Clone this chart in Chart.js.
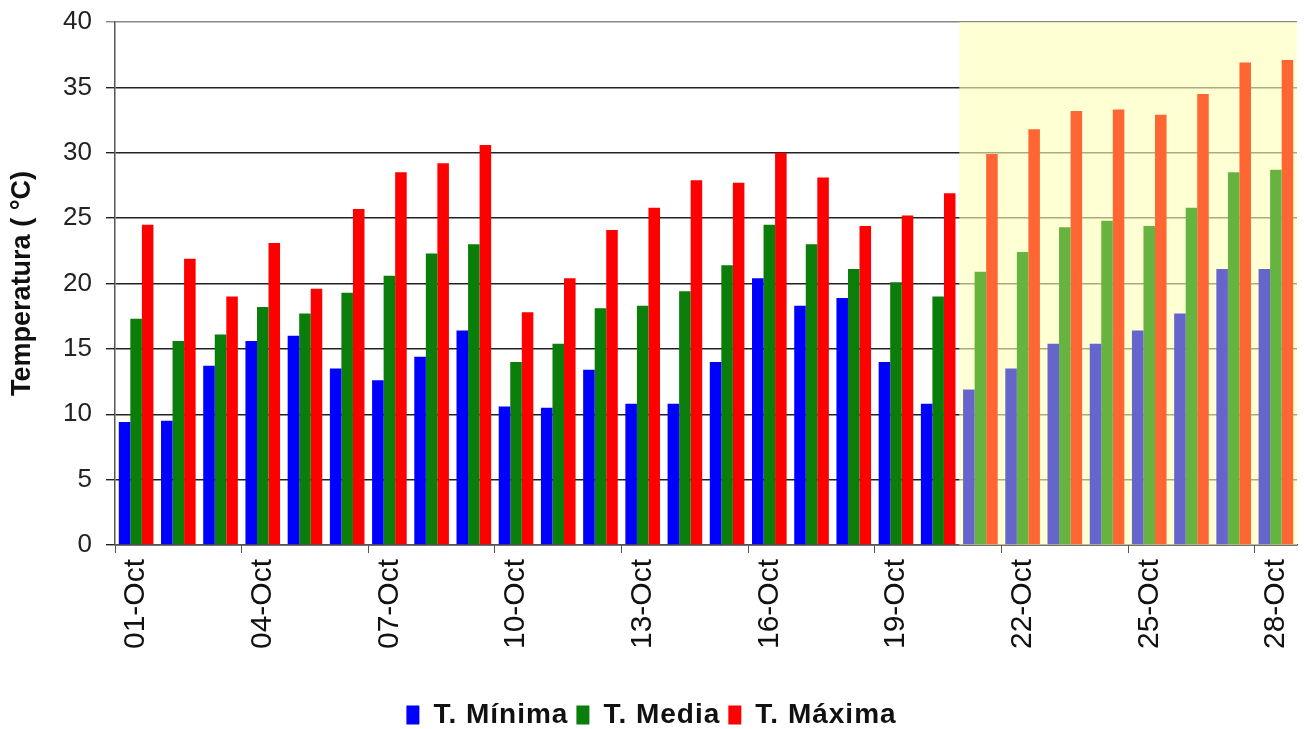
<!DOCTYPE html>
<html>
<head>
<meta charset="utf-8">
<script src="https://cdn.jsdelivr.net/npm/chart.js@4/dist/chart.umd.min.js"></script>
<style>
  html, body { margin: 0; padding: 0; background: #ffffff; }
  canvas { display: block; }
</style>
</head>
<body>
<canvas id="c" width="1304" height="729"></canvas>
<script>
const days = ['01-Oct','02-Oct','03-Oct','04-Oct','05-Oct','06-Oct','07-Oct','08-Oct','09-Oct','10-Oct',
              '11-Oct','12-Oct','13-Oct','14-Oct','15-Oct','16-Oct','17-Oct','18-Oct','19-Oct','20-Oct',
              '21-Oct','22-Oct','23-Oct','24-Oct','25-Oct','26-Oct','27-Oct','28-Oct'];
const tMinima = [9.4, 9.5, 13.7, 15.6, 16.0, 13.5, 12.6, 14.4, 16.4, 10.6, 10.5, 13.4, 10.8, 10.8, 14.0, 20.4, 18.3, 18.9, 14.0, 10.8, 11.9, 13.5, 15.4, 15.4, 16.4, 17.7, 21.1, 21.1];
const tMedia  = [17.3, 15.6, 16.1, 18.2, 17.7, 19.3, 20.6, 22.3, 23.0, 14.0, 15.4, 18.1, 18.3, 19.4, 21.4, 24.5, 23.0, 21.1, 20.1, 19.0, 20.9, 22.4, 24.3, 24.8, 24.4, 25.8, 28.5, 28.7];
const tMaxima = [24.5, 21.9, 19.0, 23.1, 19.6, 25.7, 28.5, 29.2, 30.6, 17.8, 20.4, 24.1, 25.8, 27.9, 27.7, 30.0, 28.1, 24.4, 25.2, 26.9, 29.9, 31.8, 33.2, 33.3, 32.9, 34.5, 36.9, 37.1];
const seriesNames = ['T. Mínima', 'T. Media', 'T. Máxima'];
const forecastStart = 20; // index of first forecast day (21-Oct)

const obsColors = ['#0000ff', '#0a7d0a', '#ff0000'];
const fcColors  = ['#6565cc', '#66b33f', '#ff6633'];

const forecastBand = {
  id: 'forecastBand',
  beforeDatasetsDraw(chart) {
    const x = chart.scales.x, a = chart.chartArea, ctx = chart.ctx;
    const x0 = (x.getPixelForValue(forecastStart - 1) + x.getPixelForValue(forecastStart)) / 2;
    ctx.save();
    ctx.fillStyle = 'rgba(255,255,185,0.62)';
    ctx.fillRect(x0, a.top, a.right - x0, a.bottom - a.top);
    ctx.restore();
  }
};

function mkDs(i, data) {
  return {
    label: seriesNames[i],
    data: data,
    backgroundColor: (c) => (c.dataIndex >= forecastStart ? fcColors[i] : obsColors[i]),
    borderWidth: 0,
    categoryPercentage: 0.82,
    barPercentage: 1.0
  };
}

const chart = new Chart(document.getElementById('c'), {
  type: 'bar',
  data: {
    labels: days,
    datasets: [mkDs(0, tMinima), mkDs(1, tMedia), mkDs(2, tMaxima)]
  },
  options: {
    responsive: false,
    animation: false,
    layout: { padding: { top: 22, right: 7, left: 6, bottom: -10 } },
    plugins: {
      tooltip: { enabled: false },
      legend: {
        position: 'bottom',
        labels: {
          font: { family: 'Arial, "Liberation Sans"', size: 28, weight: 'bold' },
          color: '#111',
          boxWidth: 13,
          boxHeight: 19,
          padding: 8
        }
      }
    },
    scales: {
      x: {
        afterFit(s) { s.height = 148; s.paddingLeft = 0; s.paddingRight = 0; },
        grid: {
          offset: true,
          drawOnChartArea: false,
          drawTicks: true,
          tickLength: 8,
          color: (c) => (c.index % 3 === 0 ? '#555' : 'rgba(0,0,0,0)')
        },
        border: { display: true, color: '#555', width: 1.5 },
        ticks: {
          autoSkip: false,
          maxRotation: 90,
          minRotation: 90,
          padding: 6,
          color: '#111',
          font: { family: 'Arial, "Liberation Sans"', size: 30 },
          callback: function(v, i) { return i % 3 === 0 ? this.getLabelForValue(v) : ''; }
        }
      },
      y: {
        min: 0,
        max: 40,
        afterFit(s) { s.width = 109; s.paddingTop = 0; s.paddingBottom = 0; },
        grid: { color: (c) => (c.tick && c.tick.value === 40 ? '#888' : '#222'), lineWidth: 1.4, tickLength: 9 },
        border: { display: true, color: '#555', width: 1.5 },
        ticks: {
          stepSize: 5,
          padding: 14,
          color: '#222',
          font: { family: 'Arial, "Liberation Sans"', size: 26 }
        },
        title: {
          display: true,
          text: 'Temperatura ( °C)',
          color: '#111',
          font: { family: 'Arial, "Liberation Sans"', size: 27, weight: 'bold' },
          padding: { top: 0, bottom: 0 }
        }
      }
    }
  },
  plugins: [forecastBand]
});

// widen legend lettering a little (the reference text is horizontally stretched)
(function () {
  const lg = chart.legend;
  if (!lg) return;
  const wrap = (name) => {
    const orig = lg[name];
    lg[name] = function () {
      const ctx = this.ctx;
      ctx.save();
      try { ctx.letterSpacing = '1px'; } catch (e) {}
      const r = orig.apply(this, arguments);
      ctx.restore();
      return r;
    };
  };
  wrap('fit');
  wrap('draw');
  chart.update();
})();
</script>
</body>
</html>
